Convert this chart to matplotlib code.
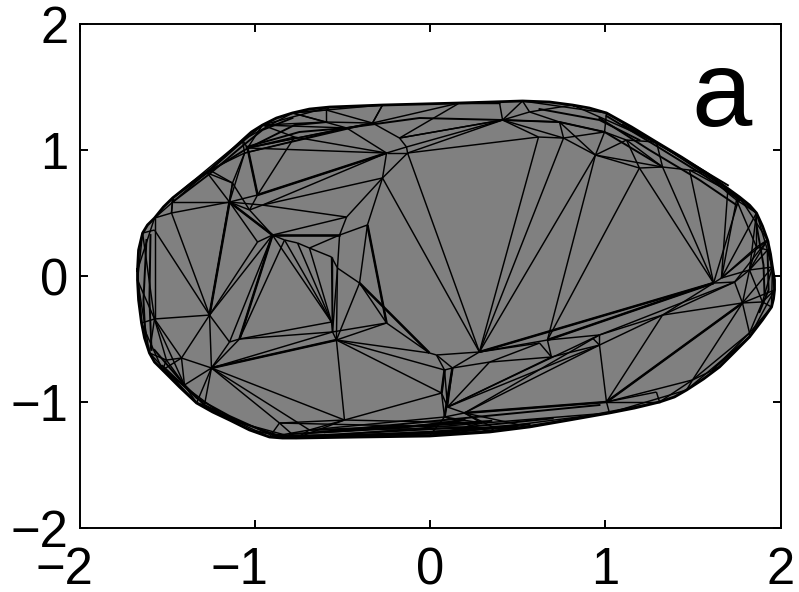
import matplotlib
matplotlib.use('Agg')
import matplotlib.pyplot as plt
from matplotlib.collections import LineCollection
from matplotlib.transforms import ScaledTranslation
import numpy as np

# boundary of the projected mesh
rim_x = [-1.669, -1.640, -1.572, -1.469, -1.258, -1.070, -0.956, -0.785, -0.573, -0.271,
         0.168, 0.528, 0.813, 1.007, 1.292, 1.578, 1.766, 1.863, 1.926, 1.954,
         1.966, 1.949, 1.823, 1.652, 1.464, 1.310, 1.024, 0.568, 0.340, -0.003,
         -0.762, -0.916, -1.144, -1.332, -1.526, -1.601, -1.646, -1.669]
rim_y = [0.048, 0.341, 0.460, 0.619, 0.841, 1.079, 1.198, 1.294, 1.341, 1.357,
         1.373, 1.389, 1.357, 1.294, 1.063, 0.817, 0.627, 0.500, 0.286, 0.071,
         -0.111, -0.246, -0.484, -0.722, -0.905, -1.000, -1.087, -1.198, -1.238, -1.270,
         -1.286, -1.278, -1.143, -1.008, -0.746, -0.611, -0.373, -0.032]

# finer outline for the fill
outline_x = [-1.669, -1.663, -1.640, -1.612, -1.572, -1.521, -1.469, -1.361, -1.258, -1.161,
             -1.070, -1.019, -0.956, -0.876, -0.785, -0.688, -0.573, -0.271, 0.168, 0.528,
             0.682, 0.813, 0.910, 1.007, 1.150, 1.292, 1.435, 1.578, 1.680, 1.766,
             1.823, 1.863, 1.897, 1.926, 1.943, 1.954, 1.966, 1.966, 1.960, 1.949,
             1.897, 1.823, 1.738, 1.652, 1.561, 1.464, 1.395, 1.310, 1.167, 1.024,
             0.796, 0.568, 0.340, -0.003, -0.402, -0.762, -0.842, -0.916, -1.030, -1.144,
             -1.241, -1.332, -1.429, -1.526, -1.572, -1.601, -1.629, -1.646, -1.663, -1.669]
outline_y = [0.048, 0.206, 0.341, 0.405, 0.460, 0.548, 0.619, 0.738, 0.841, 0.960,
             1.079, 1.143, 1.198, 1.254, 1.294, 1.325, 1.341, 1.357, 1.373, 1.389,
             1.381, 1.357, 1.333, 1.294, 1.183, 1.063, 0.944, 0.817, 0.714, 0.627,
             0.563, 0.500, 0.397, 0.286, 0.175, 0.071, -0.032, -0.111, -0.183, -0.246,
             -0.349, -0.484, -0.603, -0.722, -0.817, -0.905, -0.960, -1.000, -1.048, -1.087,
             -1.143, -1.198, -1.238, -1.270, -1.278, -1.286, -1.286, -1.278, -1.222, -1.143,
             -1.079, -1.008, -0.881, -0.746, -0.683, -0.611, -0.492, -0.373, -0.190, -0.032]

# interior vertices
node_x = [0.282, 0.619, 0.762, 0.944, 1.195, 1.327, 1.481, 1.618, -0.128, -0.134,
          -0.248, -0.271, -0.476, -0.357, -0.516, -0.899, -0.956, -0.984, -1.030, -1.041,
          -0.773, -1.144, -1.475, -1.469, -1.270, -1.127, -1.058, -0.562, -0.528, -0.688,
          -0.984, -0.591, -0.591, -0.328, -0.271, -0.174, -0.476, 0.414, 0.397, 0.568,
          0.739, 0.996, 1.121, 0.825, 1.698, 1.749, 1.863, 1.926, 1.823, 1.738,
          1.783, 1.897, 1.823, 1.327, 0.967, 0.967, 0.670, 0.927, 1.007, 1.292,
          0.693, 0.625, 0.340, 0.197, 0.100, 0.083, 0.128, 0.037, 0.368, 0.294,
          1.498, 1.612, -1.258, -1.572, -1.144, -1.087, -1.247, -1.418, -1.401, -1.287,
          -0.562, -0.556, -0.534, -0.248, -0.402, -0.488, 0.066, -0.003, 0.083, -0.859,
          -0.688, -1.504, -0.830, -0.756, -1.572, 1.663]
node_y = [-0.603, 1.103, 1.095, 0.960, 0.857, 0.865, 0.841, -0.056, 0.976, 1.024,
          0.976, 0.778, 0.468, 0.405, 0.325, 0.325, 0.563, 0.643, 0.524, 1.016,
          1.103, 0.587, 0.500, 0.587, 0.817, 0.738, 0.976, 0.151, 0.063, 0.222,
          0.270, 1.317, 1.222, 1.214, 1.357, 1.095, 1.175, 1.238, 1.373, 1.302,
          1.222, 1.143, 1.079, 1.341, 0.659, 0.603, 0.230, 0.206, 0.048, -0.048,
          -0.214, -0.206, -0.452, -0.310, -0.468, -0.548, -0.508, -0.492, -1.000, -0.921,
          -0.643, -0.532, -0.683, -1.087, -1.040, -0.746, -0.730, -0.627, -1.206, -1.167,
          -0.825, -0.746, -0.310, -0.341, -0.524, -0.500, -0.730, -0.651, -0.865, -1.024,
          -0.365, -0.444, -0.508, -0.373, -0.056, -1.143, -0.929, -0.611, -1.119, -1.167,
          -1.222, -0.667, 0.286, 0.262, 0.365, -0.016]

# node to node edges
node_edges = [(15, 92), (92, 93), (93, 29), (29, 27), (27, 28), (28, 84), (84, 83), (83, 87), (87, 67), (67, 0),
              (0, 8), (0, 11), (0, 1), (0, 2), (0, 3), (0, 56), (0, 61), (0, 7), (56, 3), (56, 4),
              (56, 54), (56, 7), (54, 53), (53, 7), (7, 49), (4, 7), (5, 7), (6, 7), (44, 95), (45, 95),
              (46, 95), (48, 95), (7, 95), (4, 5), (5, 6), (3, 4), (3, 5), (3, 2), (2, 1), (1, 8),
              (12, 11), (11, 8), (11, 10), (10, 9), (8, 9), (8, 10), (13, 11), (13, 14), (14, 12), (13, 83),
              (13, 84), (14, 28), (29, 14), (15, 14), (15, 12), (16, 12), (16, 11), (17, 10), (16, 10), (19, 17),
              (19, 10), (20, 10), (20, 17), (19, 20), (36, 10), (33, 35), (33, 34), (31, 32), (31, 33), (32, 33),
              (26, 36), (19, 36), (26, 33), (19, 33), (35, 37), (9, 37), (8, 37), (35, 9), (36, 33), (24, 21),
              (25, 21), (24, 25), (23, 21), (22, 21), (22, 23), (18, 21), (21, 16), (21, 17), (26, 25), (26, 21),
              (25, 18), (18, 16), (18, 17), (21, 30), (30, 15), (21, 15), (18, 15), (21, 72), (25, 72), (94, 72),
              (22, 72), (94, 73), (72, 30), (72, 15), (75, 15), (75, 92), (74, 15), (72, 74), (72, 76), (72, 77),
              (72, 73), (73, 77), (73, 78), (74, 75), (74, 76), (75, 76), (76, 77), (76, 78), (77, 78), (76, 82),
              (76, 81), (75, 81), (75, 80), (80, 15), (80, 92), (80, 93), (80, 29), (80, 27), (81, 27), (81, 28),
              (81, 80), (82, 81), (82, 84), (82, 28), (82, 83), (81, 83), (82, 85), (76, 85), (76, 89), (76, 90),
              (76, 79), (78, 79), (82, 86), (82, 87), (82, 65), (85, 86), (84, 87), (65, 86), (66, 88), (65, 66),
              (67, 65), (67, 66), (86, 88), (86, 64), (64, 65), (64, 66), (64, 63), (62, 66), (0, 66), (61, 62),
              (60, 62), (60, 61), (60, 56), (55, 60), (55, 64), (54, 64), (55, 63), (54, 63), (60, 64), (62, 64),
              (54, 55), (57, 55), (55, 58), (53, 55), (53, 58), (53, 50), (50, 58), (49, 50), (50, 51), (50, 48),
              (49, 48), (51, 48), (50, 52), (51, 52), (52, 70), (52, 71), (50, 70), (70, 58), (59, 58), (63, 58),
              (63, 88), (63, 69), (63, 68), (89, 68), (90, 68), (90, 69), (85, 69), (85, 89), (85, 90), (88, 90),
              (88, 69), (37, 38), (37, 39), (37, 40), (37, 35), (37, 1), (37, 2), (40, 2), (40, 39), (40, 41),
              (40, 3), (2, 41), (41, 3), (41, 42), (3, 42), (42, 4), (42, 5), (46, 47), (46, 48), (47, 48),
              (44, 45), (45, 46), (53, 49), (54, 49), (91, 77), (91, 73), (78, 91)]

# edges that look heavier, they are really several lines side by side
heavy_edges = [(21, 72), (75, 15), (13, 83), (84, 87), (50, 58), (63, 58), (19, 17), (15, 14), (21, 15), (0, 7),
               (56, 7), (17, 10), (65, 86), (66, 88), (76, 82)]

# node to rim edges, (node, rim vertex)
rim_edges = [(31, 7), (31, 8), (32, 7), (32, 6), (33, 9), (33, 10), (34, 9), (35, 10), (37, 11), (38, 10),
             (39, 11), (39, 12), (43, 12), (41, 13), (42, 14), (6, 15), (5, 14), (6, 16), (44, 15),
             (44, 16), (45, 16), (45, 17), (46, 17), (46, 18), (47, 18), (47, 19), (48, 19), (51, 19), (51, 20),
             (51, 21), (52, 21), (52, 22), (71, 23), (71, 22), (70, 23), (70, 24), (70, 25), (59, 25), (58, 26),
             (58, 25), (63, 27), (68, 27), (68, 28), (69, 29), (88, 29), (88, 28), (89, 31), (89, 30), (90, 30),
             (90, 31), (85, 30), (79, 32), (79, 33), (78, 33), (78, 34), (91, 34), (91, 35), (77, 34), (73, 36),
             (73, 35), (73, 37), (73, 1), (94, 1), (94, 2), (22, 2), (22, 3), (23, 3), (24, 3), (24, 4),
             (25, 4), (26, 4), (26, 5), (19, 5), (19, 6), (20, 6), (36, 6), (36, 7), (76, 33), (95, 17),
             (95, 18), (48, 17), (48, 18), (7, 16), (49, 18), (50, 19), (50, 20)]

# rim to rim chords
chords = [(0, 2), (1, 37), (2, 4), (3, 5), (4, 6), (5, 7), (6, 8), (7, 9), (11, 13), (12, 14),
          (13, 15), (14, 16), (15, 17), (16, 18), (17, 19), (18, 20), (19, 21), (20, 22), (22, 24), (24, 26),
          (25, 27), (26, 28), (27, 29), (28, 30), (27, 30), (26, 29), (29, 31), (30, 32), (31, 33), (32, 34),
          (33, 35), (34, 36), (35, 37), (36, 0), (26, 30), (28, 31)]

# thin slivers running along the boundary, each one a polyline
band_x = [[1.007, 1.292, 1.578, 1.766], [0.967, 1.252, 1.538, 1.749], [-1.469, -1.258, -1.070, -0.956, -0.785],
          [-1.270, -1.058, -0.773, -0.591], [-1.047, -0.745, -0.476, -0.060, 0.414], [-0.762, -0.003, 0.568],
          [-0.802, -0.174, 0.197], [-0.688, 0.083, 0.967], [-0.516, 0.111], [-1.526, -1.332, -1.144, -0.916],
          [-1.572, -1.401, -1.287, -1.087, -0.859], [-1.623, -1.635, -1.618], [-1.589, -1.601, -1.595],
          [1.926, 1.932, 1.880], [1.863, 1.903, 1.909], [0.625, 0.967, 1.195], [0.414, 0.739, 0.996, 1.310],
          [-0.900, 0.000, 0.500], [-0.700, 0.200, 0.700], [-0.600, -0.100, 0.350], [1.100, 1.400, 1.700],
          [-1.000, -0.880, -0.700]]
band_y = [[1.270, 1.032, 0.786, 0.603], [1.254, 1.000, 0.762, 0.563], [0.587, 0.810, 1.032, 1.159, 1.254],
          [0.817, 1.000, 1.198, 1.222], [1.024, 1.143, 1.175, 1.254, 1.238], [-1.286, -1.238, -1.175],
          [-1.254, -1.206, -1.143], [-1.246, -1.143, -1.024], [-1.230, -1.175], [-0.714, -0.968, -1.111, -1.254],
          [-0.587, -0.865, -1.024, -1.159, -1.270], [-0.508, -0.190, 0.286], [-0.587, -0.190, 0.325],
          [0.206, -0.111, -0.286], [0.405, 0.087, -0.151], [1.325, 1.238, 1.079], [1.238, 1.222, 1.143, 0.881],
          [-1.270, -1.250, -1.190], [-1.270, -1.200, -1.130], [-1.240, -1.190, -1.150], [1.200, 0.970, 0.720],
          [-1.230, -1.260, -1.270]]

x = np.array(node_x)
y = np.array(node_y)
rx = np.array(rim_x)
ry = np.array(rim_y)

segs = []
for a, b in node_edges:
    segs.append([(x[a], y[a]), (x[b], y[b])])
for a, b in rim_edges:
    segs.append([(x[a], y[a]), (rx[b], ry[b])])
for a, b in chords:
    segs.append([(rx[a], ry[a]), (rx[b], ry[b])])
heavy = [[(x[a], y[a]), (x[b], y[b])] for a, b in heavy_edges]

plt.rcParams['font.family'] = ['Liberation Sans', 'DejaVu Sans']

fig = plt.figure(figsize=(7.99, 5.92), dpi=100)
ax = fig.add_axes([79.5 / 799, 1 - 528 / 592, 701 / 799, 504 / 592])
ax.fill(outline_x, outline_y, color='#808080', lw=0, zorder=1)
ax.add_collection(LineCollection(segs, colors='k', linewidths=1.05, zorder=2))
ax.add_collection(LineCollection(heavy, colors='k', linewidths=1.8, zorder=2))
for bx, by in zip(band_x, band_y):
    ax.plot(bx, by, color='k', lw=1.4, zorder=2)
ax.plot(outline_x + outline_x[:1], outline_y + outline_y[:1], color='k', lw=2.0, zorder=3)

ax.set_xlim(-2, 2)
ax.set_ylim(-2, 2)
ax.set_xticks([-2, -1, 0, 1, 2])
ax.set_yticks([-2, -1, 0, 1, 2])
ax.tick_params(direction='in', top=True, right=True, length=5.5, width=1.4, labelsize=36.5)
ax.tick_params(axis='x', pad=13)
ax.tick_params(axis='y', pad=8)
for s in ax.spines.values():
    s.set_linewidth(1.4)

# the digit sits on the tick, the minus hangs out to the left
for lab, val in zip(ax.get_xticklabels(), [-2, -1, 0, 1, 2]):
    if val < 0:
        lab.set_transform(lab.get_transform() + ScaledTranslation(-15 / 100, 0, fig.dpi_scale_trans))

ax.text(1.49, 1.19, 'a', fontsize=78, color='k', ha='left', va='baseline')

plt.savefig('out.png', dpi=100)
plt.close()
